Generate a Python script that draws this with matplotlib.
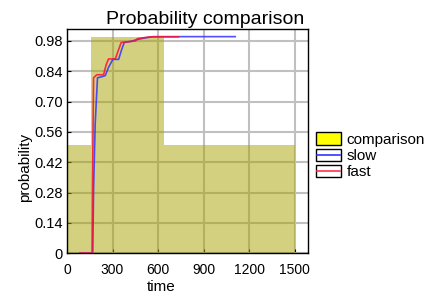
import numpy as np
import matplotlib
matplotlib.use("Agg")
import matplotlib.pyplot as plt
from matplotlib.patches import Rectangle, Patch
from matplotlib.lines import Line2D
from matplotlib.legend_handler import HandlerBase

plt.rcParams['font.family'] = ['Liberation Sans', 'DejaVu Sans']

# comparison histogram (bin edges and heights)
bin_edges = [0, 157, 638, 1500]
bin_heights = [0.5, 1.0, 0.5]

# slow series
slow_t = [86, 168, 170, 175, 186, 201, 230, 252, 275, 302, 340, 360, 377, 420, 470, 520, 570, 1108]
slow_p = [0, 0, 0.01, 0.29, 0.6, 0.81, 0.815, 0.82, 0.86, 0.895, 0.895, 0.94, 0.973, 0.978, 0.988, 0.995, 1.0, 1.0]

# fast series
fast_t = [86, 165, 168, 175, 197, 241, 258, 274, 318, 340, 357, 449, 465, 548, 734]
fast_p = [0, 0, 0.3, 0.81, 0.824, 0.824, 0.87, 0.897, 0.897, 0.94, 0.973, 0.98, 0.991, 0.999, 0.999]

xticks = [0, 300, 600, 900, 1200, 1500]
yticks = [0, 0.14, 0.28, 0.42, 0.56, 0.70, 0.84, 0.98]
ytick_labels = ['0', '0.14', '0.28', '0.42', '0.56', '0.70', '0.84', '0.98']


class BoxLine(HandlerBase):
    def __init__(self, color):
        super().__init__()
        self.color = color

    def create_artists(self, legend, orig_handle, xdescent, ydescent,
                       width, height, fontsize, trans):
        r = Rectangle((-xdescent, -ydescent), width, height, facecolor='white',
                      edgecolor='black', lw=1.0, transform=trans)
        y = -ydescent + height / 2
        l = Line2D([-xdescent + 1, -xdescent + width - 1], [y, y], color=self.color,
                   lw=1.2, transform=trans)
        return [r, l]


fig = plt.figure(figsize=(4.32, 2.94), dpi=100)
ax = fig.add_axes([0.155, 0.139, 0.558, 0.764])

ax.grid(True, color='#c0c0c0', lw=1.5)
ax.set_axisbelow(True)

widths = np.diff(bin_edges)
ax.bar(bin_edges[:-1], bin_heights, width=widths, align='edge',
       color='#a8a300', alpha=0.5, lw=0, zorder=2)

ax.plot(slow_t, slow_p, color='#3333ff', lw=1.2, alpha=0.85, zorder=3)
ax.plot(fast_t, fast_p, color='#ff1030', lw=1.2, alpha=0.85, zorder=4)

ax.set_xlim(0, 1587)
ax.set_ylim(0, 1.0375)
ax.set_xticks(xticks)
ax.set_yticks(yticks)
ax.set_yticklabels(ytick_labels)
ax.tick_params(axis='x', labelsize=10, direction='in', length=3, pad=7)
ax.tick_params(axis='y', labelsize=10.5, direction='in', length=3, pad=3)
for s in ax.spines.values():
    s.set_linewidth(1.0)

ax.set_title('Probability comparison', fontsize=14, pad=3, x=0.573)
ax.set_xlabel('time', fontsize=11, labelpad=1)
ax.xaxis.set_label_coords(0.39, -0.12)
ax.set_ylabel('probability', fontsize=11)
ax.yaxis.set_label_coords(-0.145, 0.38)

h_comp = Patch(facecolor='yellow', edgecolor='black', lw=1.0)
h_slow = Line2D([], [], color='blue')
h_fast = Line2D([], [], color='red')
fig.legend([h_comp, h_slow, h_fast], ['comparison', 'slow', 'fast'],
           loc='center left', bbox_to_anchor=(0.731, 0.47), frameon=False,
           fontsize=11, handlelength=1.65, handleheight=0.9, labelspacing=0.1,
           handletextpad=0.35, borderpad=0, borderaxespad=0,
           handler_map={h_slow: BoxLine('#3333ff'), h_fast: BoxLine('#ff3050')})

fig.savefig('out.png', dpi=100)
